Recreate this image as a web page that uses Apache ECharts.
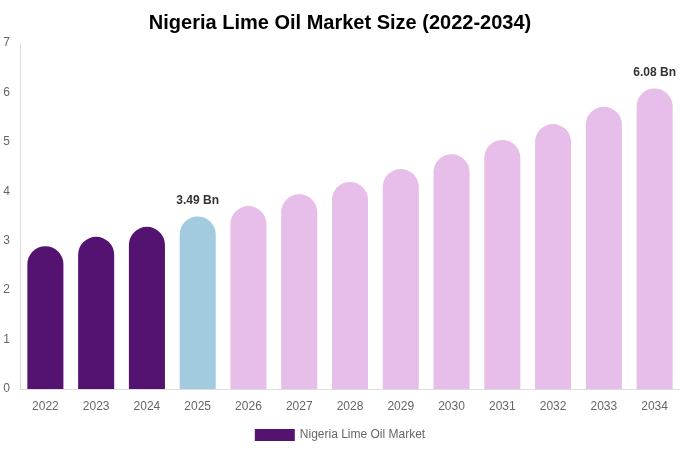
<!DOCTYPE html>
<html>
<head>
<meta charset="utf-8">
<title>Nigeria Lime Oil Market Size</title>
<script src="https://cdn.jsdelivr.net/npm/echarts@6/dist/echarts.min.js"></script>
<style>
  html, body { margin: 0; padding: 0; background: #fff; }
  #chart { width: 680px; height: 450px; }
</style>
</head>
<body>
<div id="chart"></div>
<script>
// data
var years = ['2022', '2023', '2024', '2025', '2026', '2027', '2028', '2029', '2030', '2031', '2032', '2033', '2034'];
var values = [2.89, 3.08, 3.28, 3.49, 3.70, 3.94, 4.19, 4.45, 4.75, 5.04, 5.36, 5.71, 6.08];
var labelled = ['2025', '2034'];

var dark = '#541370';
var blue = '#a3cbdf';
var pink = '#e7bde9';

function barColor(year) {
    var y = parseInt(year, 10);
    if (y < 2025) return dark;
    if (y === 2025) return blue;
    return pink;
}

var barData = years.map(function (y, i) {
    var item = { value: values[i], itemStyle: { color: barColor(y) } };
    if (labelled.indexOf(y) >= 0) {
        item.label = { show: true, position: 'top', distance: 10, formatter: values[i].toFixed(2) + ' Bn' };
    }
    return item;
});

var chart = echarts.init(document.getElementById('chart'));
chart.setOption({
    animation: false,
    title: {
        text: 'Nigeria Lime Oil Market Size (2022-2034)',
        left: 'center',
        top: 8,
        textStyle: { fontFamily: 'Liberation Sans, Arial, sans-serif', fontSize: 20, fontWeight: 'bold', color: '#000' }
    },
    legend: {
        bottom: 4,
        left: 'center',
        icon: 'rect',
        itemWidth: 40,
        itemHeight: 12,
        itemGap: 6,
        textStyle: { fontFamily: 'Liberation Sans, Arial, sans-serif', fontSize: 12, color: '#666' },
        data: [{ name: 'Nigeria Lime Oil Market', itemStyle: { color: dark, borderRadius: 0 } }]
    },
    grid: { left: 20, right: 0, top: 43, bottom: 61, containLabel: false },
    xAxis: {
        type: 'category',
        data: years,
        axisLine: { show: true, lineStyle: { color: '#ddd' } },
        axisTick: { show: false },
        axisLabel: { color: '#666', fontSize: 12, margin: 12, fontFamily: 'Liberation Sans, Arial, sans-serif' }
    },
    yAxis: {
        type: 'value',
        min: 0,
        max: 7,
        interval: 1,
        axisLine: { show: true, lineStyle: { color: '#ddd' } },
        axisTick: { show: false },
        splitLine: { show: false },
        axisLabel: { color: '#666', fontSize: 12, margin: 10, fontFamily: 'Liberation Sans, Arial, sans-serif' }
    },
    series: [{
        name: 'Nigeria Lime Oil Market',
        type: 'bar',
        barWidth: '71%',
        data: barData,
        itemStyle: { borderRadius: [18, 18, 0, 0] },
        label: {
            color: '#333',
            fontWeight: 'bold',
            fontSize: 12,
            fontFamily: 'Liberation Sans, Arial, sans-serif'
        }
    }]
});
</script>
</body>
</html>
